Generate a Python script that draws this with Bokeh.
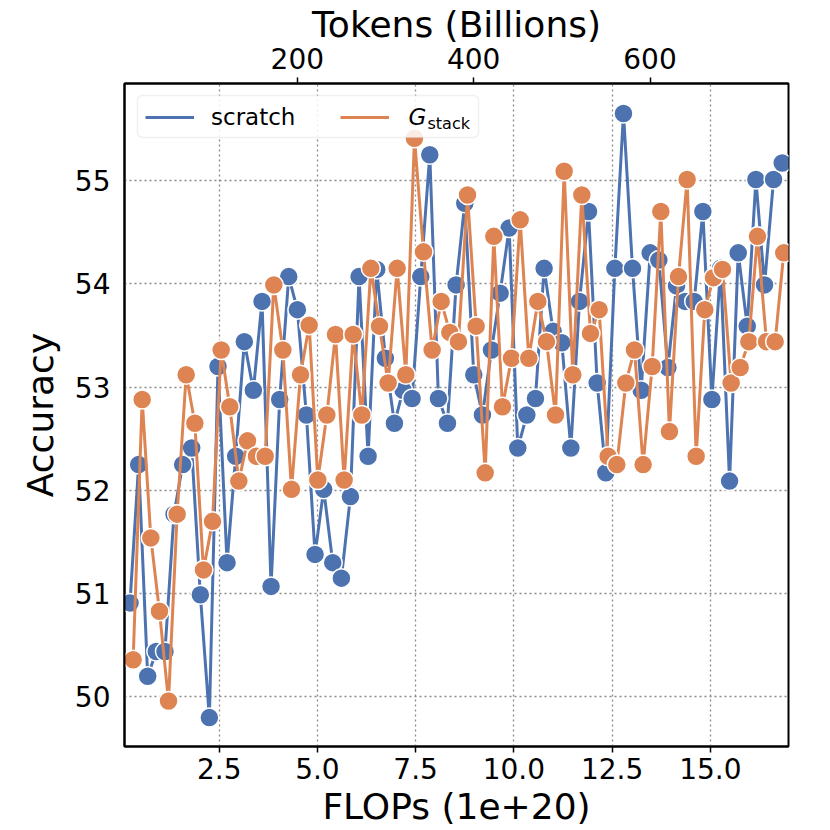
from bokeh.plotting import figure
from bokeh.models import (Range1d, LinearAxis, Legend, LegendItem, Label, BoxAnnotation,
                          FixedTicker, PrintfTickFormatter, ColumnDataSource)
from bokeh.embed import file_html
from bokeh.resources import INLINE

# ---------------- data ----------------
scratch_flops = [0.23, 0.45, 0.68, 0.90, 1.12, 1.35, 1.57, 1.80, 2.02, 2.25,
                 2.47, 2.70, 2.92, 3.14, 3.37, 3.59, 3.82, 4.04, 4.27, 4.49,
                 4.72, 4.94, 5.16, 5.39, 5.61, 5.84, 6.06, 6.29, 6.51, 6.73,
                 6.96, 7.18, 7.41, 7.63, 7.86, 8.08, 8.31, 8.53, 8.75, 8.98,
                 9.20, 9.43, 9.65, 9.88, 10.10, 10.33, 10.55, 10.77, 11.00, 11.22,
                 11.45, 11.67, 11.90, 12.12, 12.34, 12.57, 12.79, 13.02, 13.24, 13.47,
                 13.69, 13.92, 14.14, 14.36, 14.59, 14.81, 15.04, 15.26, 15.49, 15.71,
                 15.94, 16.16, 16.38, 16.61, 16.83]
scratch_acc = [50.91, 52.25, 50.20, 50.44, 50.44, 51.77, 52.25, 52.41, 50.99, 49.80,
               53.20, 51.30, 52.33, 53.44, 52.97, 53.83, 51.07, 52.88, 54.07, 53.75,
               52.73, 51.38, 52.01, 51.30, 51.15, 51.94, 54.07, 52.33, 54.14, 53.28,
               52.65, 52.97, 52.89, 54.07, 55.25, 52.89, 52.65, 53.99, 54.78, 53.12,
               52.73, 53.36, 53.91, 54.54, 52.41, 52.73, 52.89, 54.15, 53.54, 53.43,
               52.41, 53.83, 54.70, 53.04, 52.17, 54.15, 55.65, 54.15, 52.97, 54.30,
               54.23, 53.19, 53.98, 53.83, 53.83, 54.70, 52.88, 54.15, 52.09, 54.30,
               53.59, 55.01, 53.99, 55.01, 55.17]

gstack_flops = [0.31, 0.54, 0.76, 0.98, 1.21, 1.43, 1.66, 1.88, 2.10, 2.33,
                2.55, 2.77, 3.00, 3.22, 3.45, 3.67, 3.89, 4.12, 4.34, 4.57,
                4.79, 5.01, 5.24, 5.46, 5.68, 5.91, 6.13, 6.36, 6.58, 6.80,
                7.03, 7.25, 7.47, 7.70, 7.92, 8.15, 8.37, 8.59, 8.82, 9.04,
                9.27, 9.49, 9.71, 9.94, 10.16, 10.38, 10.61, 10.83, 11.06, 11.28,
                11.50, 11.73, 11.95, 12.17, 12.40, 12.62, 12.85, 13.07, 13.29, 13.52,
                13.74, 13.96, 14.19, 14.41, 14.64, 14.86, 15.08, 15.31, 15.53, 15.76,
                15.98, 16.20, 16.43, 16.65, 16.87]
gstack_acc = [50.36, 52.88, 51.54, 50.83, 49.96, 51.77, 53.12, 52.65, 51.23, 51.70,
              53.36, 52.81, 52.09, 52.48, 52.33, 52.33, 53.99, 53.36, 52.01, 53.12,
              53.60, 52.10, 52.73, 53.51, 52.10, 53.51, 52.73, 54.15, 53.59, 53.04,
              54.15, 53.12, 55.41, 54.31, 53.36, 53.83, 53.53, 53.44, 54.86, 53.59,
              52.17, 54.46, 52.81, 53.28, 54.62, 53.28, 53.83, 53.44, 52.73, 55.09,
              53.12, 54.86, 53.52, 53.75, 52.33, 52.25, 53.04, 53.36, 52.25, 53.20,
              54.70, 52.57, 54.07, 55.01, 52.33, 53.75, 54.06, 54.14, 53.04, 53.19,
              53.44, 54.46, 53.44, 53.44, 54.30]

x_ticks = [2.5, 5.0, 7.5, 10.0, 12.5, 15.0]
y_ticks = [50, 51, 52, 53, 54, 55]
token_ticks = [200, 400, 600]
series_names = ["scratch", "G", "stack"]

# ---------------- style / layout ----------------
TOKENS_PER_FLOP = 44.56   # top-axis scale: billions of tokens per 1e20 FLOPs
X0, X1 = 0.09, 16.99
Y0, Y1 = 49.52, 55.94
FONT = "DejaVu Sans"
BLUE = "#4C72B0"
ORANGE = "#DD8452"
W = H = 830
BL, BR, BT, BB = 124, 42, 82, 84
FW, FH = W - BL - BR, H - BT - BB

p = figure(width=W, height=H, output_backend="svg", toolbar_location=None,
           x_range=Range1d(X0, X1), y_range=Range1d(Y0, Y1),
           min_border_left=BL, min_border_right=BR,
           min_border_top=BT, min_border_bottom=BB,
           x_axis_label="FLOPs (1e+20)", y_axis_label="Accuracy")
p.extra_x_ranges = {"tokens": Range1d(X0 * TOKENS_PER_FLOP, X1 * TOKENS_PER_FLOP)}

p.background_fill_color = "white"
p.border_fill_color = "white"
p.outline_line_color = "black"
p.outline_line_width = 2

bottom_axis = p.below[0]
left_axis = p.left[0]
top_axis = LinearAxis(x_range_name="tokens", axis_label="Tokens (Billions)",
                      ticker=FixedTicker(ticks=token_ticks))
p.add_layout(top_axis, "above")

bottom_axis.ticker = FixedTicker(ticks=x_ticks)
bottom_axis.formatter = PrintfTickFormatter(format="%.1f")
left_axis.ticker = FixedTicker(ticks=y_ticks)

for ax in (bottom_axis, left_axis, top_axis):
    ax.axis_line_color = "black"
    ax.axis_line_width = 2
    ax.major_tick_line_color = "black"
    ax.major_tick_line_width = 1.5
    ax.major_tick_out = 6
    ax.major_tick_in = 0
    ax.minor_tick_line_color = None
    ax.major_label_text_font = FONT
    ax.major_label_text_font_size = "28px"
    ax.major_label_text_color = "black"
    ax.major_label_standoff = 5
    ax.axis_label_text_font = FONT
    ax.axis_label_text_font_size = "36px"
    ax.axis_label_text_font_style = "normal"
    ax.axis_label_text_color = "black"
    ax.axis_label_standoff = 1

left_axis.major_tick_out = 0
left_axis.major_label_standoff = 14
left_axis.axis_label_standoff = 11
top_axis.major_label_standoff = 9
top_axis.axis_label_standoff = 0
bottom_axis.axis_label_standoff = 4

p.xgrid.ticker = FixedTicker(ticks=x_ticks)
p.ygrid.ticker = FixedTicker(ticks=y_ticks)
for g in (p.xgrid, p.ygrid):
    g.grid_line_color = "#8a8a8a"
    g.grid_line_width = 1.3
    g.grid_line_dash = "2 3"

src_s = ColumnDataSource(dict(x=scratch_flops, y=scratch_acc))
src_g = ColumnDataSource(dict(x=gstack_flops, y=gstack_acc))

l_s = p.line("x", "y", source=src_s, line_color=BLUE, line_width=3)
p.scatter("x", "y", source=src_s, size=19, fill_color=BLUE,
          line_color="white", line_width=1.5)
l_g = p.line("x", "y", source=src_g, line_color=ORANGE, line_width=3)
p.scatter("x", "y", source=src_g, size=19, fill_color=ORANGE,
          line_color="white", line_width=1.5)

# legend: frame box drawn separately so that the G_stack label sits on top of it
L_MARGIN, L_PAD, GLYPH_W, STANDOFF, SPACING = 13, 8, 49, 17, 45
SCRATCH_W, SECOND_W = 84, 62
BOX_W, BOX_H = 341, 42
p.add_layout(BoxAnnotation(left=L_MARGIN, right=L_MARGIN + BOX_W,
                           top=FH - L_MARGIN, bottom=FH - L_MARGIN - BOX_H,
                           left_units="screen", right_units="screen",
                           top_units="screen", bottom_units="screen",
                           fill_color="white", fill_alpha=0.85,
                           line_color="#cccccc", line_width=1.5,
                           border_radius=5, level="annotation"))
legend = Legend(items=[LegendItem(label=series_names[0], renderers=[l_s]),
                       LegendItem(label=" ", renderers=[l_g])],
                orientation="horizontal", location="top_left",
                margin=L_MARGIN, padding=L_PAD, spacing=SPACING,
                glyph_width=GLYPH_W, glyph_height=24, label_standoff=STANDOFF,
                label_width=SECOND_W, label_height=26,
                label_text_font=FONT, label_text_font_size="23px",
                label_text_color="black",
                border_line_alpha=0, background_fill_alpha=0)
p.add_layout(legend)

gx = L_MARGIN + L_PAD + GLYPH_W + STANDOFF + SCRATCH_W + SPACING + GLYPH_W + STANDOFF + 2
p.add_layout(Label(x=gx, y=FH - 34, x_units="screen", y_units="screen",
                   text=series_names[1], text_font=FONT, text_font_size="23px",
                   text_font_style="italic", text_baseline="middle",
                   text_align="left", text_color="black", level="overlay"))
p.add_layout(Label(x=gx + 19, y=FH - 41, x_units="screen", y_units="screen",
                   text=series_names[2], text_font=FONT, text_font_size="16px",
                   text_baseline="middle", text_align="left", text_color="black",
                   level="overlay"))

open("out.html", "w").write(file_html(p, INLINE))
